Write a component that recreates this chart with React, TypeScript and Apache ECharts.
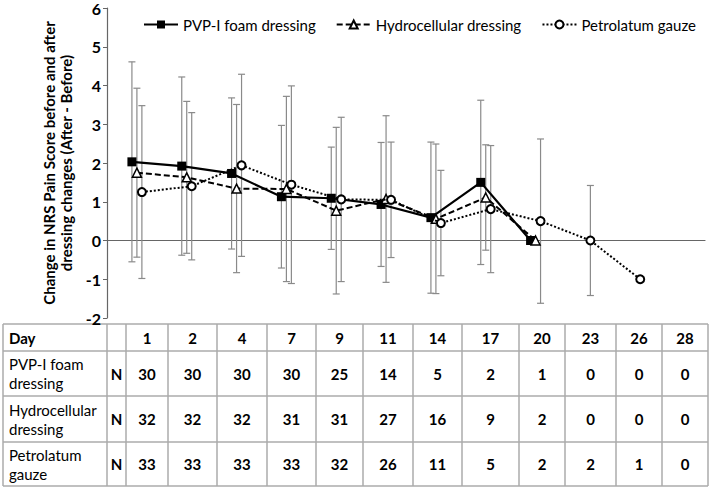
import React, { useEffect, useRef } from "react";
import * as echarts from "echarts";

const days = ["1", "2", "4", "7", "9", "11", "14", "17", "20", "23", "26", "28"];
const seriesNames = ["PVP-I foam dressing", "Hydrocellular dressing", "Petrolatum gauze"];

const pvpMean = [2.03, 1.92, 1.73, 1.13, 1.09, 0.93, 0.59, 1.5, 0, null, null, null];
const pvpSD = [2.58, 2.3, 1.95, 1.84, 1.32, 1.6, 1.95, 2.12, 0, null, null, null];

const hydroMean = [1.75, 1.63, 1.34, 1.33, 0.77, 1.07, 0.56, 1.11, 0, null, null, null];
const hydroSD = [2.18, 1.96, 2.17, 2.39, 2.15, 2.15, 1.93, 1.36, 0, null, null, null];

const petroMean = [1.25, 1.4, 1.94, 1.44, 1.06, 1.05, 0.45, 0.81, 0.5, 0, -1.0, null];
const petroSD = [2.23, 1.9, 2.35, 2.55, 2.12, 1.49, 1.36, 1.64, 2.12, 1.42, 0, null];

const nPvp = [30, 30, 30, 30, 25, 14, 5, 2, 1, 0, 0, 0];
const nHydro = [32, 32, 32, 31, 31, 27, 16, 9, 2, 0, 0, 0];
const nPetro = [33, 33, 33, 33, 32, 26, 11, 5, 2, 2, 1, 0];

const tableRowLabels = ["PVP-I foam\ndressing", "Hydrocellular\ndressing", "Petrolatum\ngauze"];

const FONT = "Lato, 'Open Sans', sans-serif";

export default function App() {
  const ref = useRef<HTMLDivElement>(null);

  useEffect(() => {
    if (!ref.current) return;
    const chart = echarts.init(ref.current, undefined, { renderer: "svg" });

    const offsets = [0, 0.1, 0.2];
    const means = [pvpMean, hydroMean, petroMean];
    const sds = [pvpSD, hydroSD, petroSD];

    const lineData = means.map((m, s) =>
      m
        .map((v, i) => (v == null ? null : [i + 0.5 + offsets[s], v]))
        .filter((d) => d !== null)
    );
    const errData = means.map((m, s) =>
      m
        .map((v, i) => {
          const sd = sds[s][i];
          if (v == null || sd == null || sd === 0) return null;
          return [i + 0.5 + offsets[s], v - sd, v + sd];
        })
        .filter((d) => d !== null)
    );

    const renderErr = (params: any, api: any) => {
      const x = api.value(0);
      const lo = api.coord([x, api.value(1)]);
      const hi = api.coord([x, api.value(2)]);
      const w = 3.5;
      const st = { stroke: "#8a8a8a", lineWidth: 1.2 };
      return {
        type: "group",
        children: [
          { type: "line", shape: { x1: lo[0], y1: lo[1], x2: hi[0], y2: hi[1] }, style: st },
          { type: "line", shape: { x1: lo[0] - w, y1: lo[1], x2: lo[0] + w, y2: lo[1] }, style: st },
          { type: "line", shape: { x1: hi[0] - w, y1: hi[1], x2: hi[0] + w, y2: hi[1] }, style: st },
        ],
      };
    };

    // table
    const colX = [3, 107, 126, 168, 217, 267, 316, 363, 413, 462, 519, 565, 616, 662, 708];
    const rowY = [324, 351, 396, 442, 486];
    const lineStyle = { stroke: "#ababab", lineWidth: 1.5 };
    const tbl: any[] = [];
    rowY.forEach((y) =>
      tbl.push({ type: "line", shape: { x1: colX[0], y1: y, x2: colX[colX.length - 1], y2: y }, style: lineStyle })
    );
    colX.forEach((x) =>
      tbl.push({ type: "line", shape: { x1: x, y1: rowY[0], x2: x, y2: rowY[rowY.length - 1] }, style: lineStyle })
    );
    const txt = (text: string, x: number, y: number, bold: boolean, align: string) => ({
      type: "text",
      x,
      y,
      style: {
        text,
        fontFamily: FONT,
        fontSize: 15,
        fontWeight: bold ? "bold" : "normal",
        fill: "#000",
        align,
        verticalAlign: "middle",
        lineHeight: 19,
      },
    });
    const cy = (r: number) => (rowY[r] + rowY[r + 1]) / 2;
    tbl.push(txt("Day", 9, cy(0), true, "left"));
    days.forEach((d, i) => tbl.push(txt(d, (colX[i + 2] + colX[i + 3]) / 2, cy(0), true, "center")));
    const ns = [nPvp, nHydro, nPetro];
    ns.forEach((row, r) => {
      tbl.push(txt(tableRowLabels[r], 9, cy(r + 1), false, "left"));
      tbl.push(txt("N", (colX[1] + colX[2]) / 2, cy(r + 1), true, "center"));
      row.forEach((v, i) => tbl.push(txt(String(v), (colX[i + 2] + colX[i + 3]) / 2, cy(r + 1), true, "center")));
    });

    const symbols = ["rect", "triangle", "circle"];
    const symbolSizes = [9, 9, 8];
    const lineTypes: any[] = ["solid", [6, 3], [2, 2]];
    const lineWidths = [2.2, 2, 2];

    const series: any[] = [];
    errData.forEach((d, s) =>
      series.push({
        type: "custom",
        name: "err" + s,
        data: d,
        renderItem: renderErr,
        encode: { x: 0, y: [1, 2] },
        z: 1,
        silent: true,
      })
    );
    lineData.forEach((d, s) =>
      series.push({
        type: "line",
        name: seriesNames[s],
        data: d,
        symbol: symbols[s],
        symbolSize: symbolSizes[s],
        showSymbol: true,
        lineStyle: { color: "#000", width: lineWidths[s], type: lineTypes[s] },
        itemStyle: {
          color: s === 0 ? "#000" : "#fff",
          borderColor: "#000",
          borderWidth: s === 0 ? 0 : s === 1 ? 1.5 : 2,
        },
        z: 3 + s,
      })
    );

    chart.setOption({
      animation: false,
      backgroundColor: "#fff",
      textStyle: { fontFamily: FONT },
      grid: { left: 107, right: 4, top: 5, bottom: 170, containLabel: false },
      legend: {
        data: seriesNames,
        left: 138,
        top: 12,
        itemWidth: 34,
        itemHeight: 10,
        itemGap: 20,
        textStyle: { fontFamily: FONT, fontSize: 15, color: "#000" },
      },
      xAxis: {
        type: "value",
        min: 0,
        max: 12,
        axisLine: { show: true, onZero: true, lineStyle: { color: "#666", width: 1.2 } },
        axisTick: { show: false },
        axisLabel: { show: false },
        splitLine: { show: false },
      },
      yAxis: {
        type: "value",
        min: -2,
        max: 6,
        interval: 1,
        name: "Change in NRS Pain Score before and after\ndressing changes (After - Before)",
        nameLocation: "middle",
        nameGap: 26,
        nameTextStyle: { fontFamily: FONT, fontSize: 15, fontWeight: "bold", color: "#000", lineHeight: 17 },
        axisLine: { show: true, onZero: false, lineStyle: { color: "#666", width: 1.2 } },
        axisTick: { show: true, inside: false, length: 4, lineStyle: { color: "#666" } },
        axisLabel: { fontFamily: FONT, fontSize: 16, fontWeight: "bold", color: "#000", margin: 6 },
        splitLine: { show: false },
      },
      graphic: { elements: tbl },
      series,
    });

    return () => chart.dispose();
  }, []);

  return (
    <div
      ref={ref}
      style={{ position: "fixed", left: 0, top: 0, width: 709, height: 488, background: "#fff" }}
    />
  );
}
